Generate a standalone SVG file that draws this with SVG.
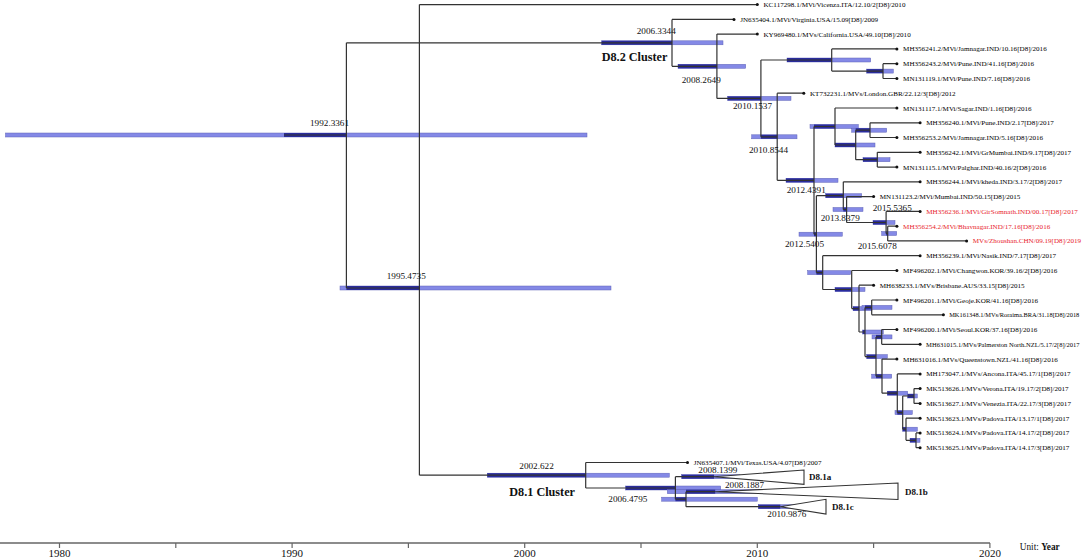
<svg xmlns="http://www.w3.org/2000/svg" width="1084" height="559" viewBox="0 0 1084 559">
<style>
.bg{fill:#fff}
.br{stroke:#333;stroke-width:1.2;fill:none}
.tri{stroke:#333;stroke-width:1.1;fill:#fff}
.bar{fill:#8489e6;stroke:#5f63b8;stroke-width:0.5}
.bd{fill:#2a2c9c}
.dot{fill:#111}
.tip{font-family:"Liberation Serif",serif;font-size:7.1px;fill:#000}
.tip.sm{font-size:6.4px}
.tip.sm2{font-size:6.55px}
.red{fill:#e8242c}
.nl{font-family:"Liberation Serif",serif;font-size:9.2px;fill:#111}
.cl{font-family:"Liberation Serif",serif;font-size:12.2px;font-weight:bold;fill:#111}
.sc{font-family:"Liberation Serif",serif;font-size:9px;font-weight:bold;fill:#111}
.ax{stroke:#666;stroke-width:1.5;fill:none}
.tk{stroke:#666;stroke-width:1.2}
.al{font-family:"Liberation Serif",serif;font-size:11px;fill:#111;text-anchor:middle}
</style>
<rect class="bg" width="1084" height="559"/>
<g id="bars">
<rect class="bar" x="5.5" y="133" width="581.5" height="4"/><rect class="bd" x="284" y="133" width="62.4" height="4"/>
<rect class="bar" x="340" y="286" width="271" height="4"/><rect class="bd" x="346.4" y="286" width="73" height="4"/>
<rect class="bar" x="601.7" y="40.8" width="121.3" height="4"/><rect class="bd" x="601.7" y="40.8" width="70.3" height="4"/>
<rect class="bar" x="678" y="64.3" width="67.7" height="4"/><rect class="bd" x="678" y="64.3" width="38.9" height="4"/>
<rect class="bar" x="727.7" y="96.4" width="63.3" height="4"/><rect class="bd" x="727.7" y="96.4" width="33.2" height="4"/>
<rect class="bar" x="787" y="58" width="83.7" height="4"/><rect class="bd" x="787" y="58" width="44.7" height="4"/>
<rect class="bar" x="866.7" y="69.1" width="26.6" height="4"/><rect class="bd" x="866.7" y="69.1" width="16.3" height="4"/>
<rect class="bar" x="751.7" y="134.8" width="45.3" height="4"/><rect class="bd" x="760.9" y="134.8" width="16.3" height="4"/>
<rect class="bar" x="786" y="178.3" width="52" height="4"/><rect class="bd" x="786" y="178.3" width="28" height="4"/>
<rect class="bar" x="810" y="124.5" width="48.3" height="4"/><rect class="bd" x="814" y="124.5" width="21" height="4"/>
<rect class="bar" x="835" y="143" width="40" height="4"/><rect class="bd" x="835" y="143" width="20.7" height="4"/>
<rect class="bar" x="851.7" y="128.2" width="35" height="4"/><rect class="bd" x="855.7" y="128.2" width="14.3" height="4"/>
<rect class="bar" x="863" y="157.7" width="27" height="4"/><rect class="bd" x="863" y="157.7" width="14.3" height="4"/>
<rect class="bar" x="825.7" y="193.7" width="36" height="4"/><rect class="bd" x="825.7" y="193.7" width="17.6" height="4"/>
<rect class="bar" x="833" y="207.5" width="30" height="4"/><rect class="bd" x="843.3" y="207.5" width="3.3" height="4"/>
<rect class="bar" x="873" y="220.5" width="22" height="4"/><rect class="bd" x="873" y="220.5" width="13.1" height="4"/>
<rect class="bar" x="881.7" y="231.5" width="15" height="4"/><rect class="bd" x="886.1" y="231.5" width="1.6" height="4"/>
<rect class="bar" x="799" y="232.2" width="43.3" height="4"/><rect class="bd" x="814" y="232.2" width="2.4" height="4"/>
<rect class="bar" x="807.7" y="270.6" width="43" height="4"/><rect class="bd" x="816.4" y="270.6" width="6.3" height="4"/>
<rect class="bar" x="835" y="287.5" width="30" height="4"/><rect class="bd" x="835" y="287.5" width="16.7" height="4"/>
<rect class="bar" x="853" y="306.6" width="19" height="4"/><rect class="bd" x="853" y="306.6" width="6" height="4"/>
<rect class="bar" x="862" y="305.4" width="30" height="4"/><rect class="bd" x="865" y="305.4" width="6.7" height="4"/>
<rect class="bar" x="862.7" y="330" width="20.6" height="4"/><rect class="bd" x="862.7" y="330" width="2.3" height="4"/>
<rect class="bar" x="866.7" y="354.6" width="20.6" height="4"/><rect class="bd" x="866.7" y="354.6" width="9.3" height="4"/>
<rect class="bar" x="872" y="334.9" width="20" height="4"/><rect class="bd" x="876" y="334.9" width="5.7" height="4"/>
<rect class="bar" x="871.7" y="374.2" width="20" height="4"/><rect class="bd" x="876" y="374.2" width="6" height="4"/>
<rect class="bar" x="887.3" y="391.2" width="20.4" height="4"/><rect class="bd" x="887.3" y="391.2" width="10" height="4"/>
<rect class="bar" x="895" y="410.6" width="17.3" height="4"/><rect class="bd" x="897.3" y="410.6" width="5.4" height="4"/>
<rect class="bar" x="907.7" y="394" width="9.6" height="4"/><rect class="bd" x="907.7" y="394" width="6.3" height="4"/>
<rect class="bar" x="902.7" y="427.2" width="14.6" height="4"/><rect class="bd" x="902.7" y="427.2" width="3.3" height="4"/>
<rect class="bar" x="910" y="438.3" width="10" height="4"/><rect class="bd" x="910" y="438.3" width="6" height="4"/>
<rect class="bar" x="487.3" y="473.2" width="182" height="4"/><rect class="bd" x="487.3" y="473.2" width="98.4" height="4"/>
<rect class="bar" x="625.7" y="486" width="95" height="4"/><rect class="bd" x="625.7" y="486" width="49.7" height="4"/>
<rect class="bar" x="681.7" y="474.7" width="58.3" height="4"/><rect class="bd" x="681.7" y="474.7" width="32.3" height="4"/>
<rect class="bar" x="661.7" y="497.2" width="95.6" height="4"/><rect class="bd" x="675.4" y="497.2" width="10.6" height="4"/>
<rect class="bar" x="667.3" y="489.7" width="99.4" height="4"/><rect class="bd" x="686" y="489.7" width="29.2" height="4"/>
<rect class="bar" x="758.3" y="504.7" width="38.4" height="4"/><rect class="bd" x="758.3" y="504.7" width="22" height="4"/>
</g>
<g id="connectors">
<path class="br" d="M284,135H346.4 M346.4,42.8V288 M346.4,42.8H672 M346.4,288H419.4
M419.4,4.6V475.2 M419.4,4.6H757.3 M419.4,475.2H585.7
M672,19.4V66.3 M672,19.4H734 M672,66.3H716.9
M716.9,34.1V98.4 M716.9,34.1H757.3 M716.9,98.4H760.9
M760.9,60V136.8 M760.9,60H831.7 M760.9,136.8H777.2
M831.7,48.9V71.1 M831.7,48.9H896.9 M831.7,71.1H883
M883,63.7V78.5 M883,63.7H896.9 M883,78.5H896.9
M777.2,93.2V180.3 M777.2,93.2H803.8 M777.2,180.3H814
M814,126.5V234.2 M814,126.5H835 M814,234.2H816.4
M835,108V145 M835,108H896.9 M835,145H855.7
M855.7,130.2V159.7 M855.7,130.2H870 M855.7,159.7H877.3
M870,122.8V137.5 M870,122.8H920.1 M870,137.5H896.9
M877.3,152.3V167.1 M877.3,152.3H920.1 M877.3,167.1H896.9
M816.4,195.7V272.6 M816.4,195.7H843.3 M816.4,272.6H822.7
M843.3,181.8V209.5 M843.3,181.8H920.1 M843.3,209.5H846.6
M846.6,196.6V222.5 M846.6,196.6H873.6 M846.6,222.5H886.1
M886.1,211.4V233.5 M886.1,211.4H920.1 M886.1,233.5H887.7
M887.7,226.2V240.9 M887.7,226.2H896.9 M887.7,240.9H966.6
M822.7,255.7V289.5 M822.7,255.7H920.1 M822.7,289.5H851.7
M851.7,270.5V308.6 M851.7,270.5H896.9 M851.7,308.6H859
M859,285.2V332 M859,285.2H873.6 M859,332H865
M865,307.4V356.6 M865,307.4H871.7 M865,356.6H876
M871.7,300V314.8 M871.7,300H896.9 M871.7,314.8H943.4
M876,336.9V376.2 M876,336.9H881.7 M876,376.2H882
M881.7,329.5V344.3 M881.7,329.5H896.9 M881.7,344.3H920.1
M882,359.1V393.2 M882,359.1H896.9 M882,393.2H897.3
M897.3,373.9V412.6 M897.3,373.9H920.1 M897.3,412.6H902.7
M902.7,396V429.2 M902.7,396H914 M902.7,429.2H906
M914,388.6V403.4 M914,388.6H920.1 M914,403.4H920.1
M906,418.2V440.3 M906,418.2H920.1 M906,440.3H916
M916,432.9V447.7 M916,432.9H920.1 M916,447.7H920.1
M585.7,462.5V488 M585.7,462.5H687.5 M585.7,488H675.4
M675.4,476.7V499.2 M675.4,476.7H714 M675.4,499.2H686
M686,491.7V506.7 M686,491.7H715.2 M686,506.7H780.3"/>
</g>
<g id="clade-D8.1a"><path class="tri" d="M714,476.7L804,470L804,484.3Z"/><text class="sc" x="809" y="480">D8.1a</text></g>
<g id="clade-D8.1b"><path class="tri" d="M715.2,491.7L898,483L898,499.5Z"/><text class="sc" x="905" y="495">D8.1b</text></g>
<g id="clade-D8.1c"><path class="tri" d="M780.3,506.7L826,499.3L826,514Z"/><text class="sc" x="832" y="510">D8.1c</text></g>
<g id="node-labels">
<text class="nl" x="310" y="126">1992.3361</text>
<text class="nl" x="386.7" y="279">1995.4735</text>
<text class="nl" x="636.7" y="34">2006.3344</text>
<text class="cl" x="601.7" y="61">D8.2 Cluster</text>
<text class="nl" x="681.7" y="83.3">2008.2649</text>
<text class="nl" x="733" y="109">2010.1537</text>
<text class="nl" x="749" y="153.3">2010.8544</text>
<text class="nl" x="786.7" y="192.5">2012.4391</text>
<text class="nl" x="820.7" y="220.5">2013.8379</text>
<text class="nl" x="872.7" y="210.5">2015.5365</text>
<text class="nl" x="785" y="246.5">2012.5405</text>
<text class="nl" x="857.7" y="249.3">2015.6078</text>
<text class="nl" x="519.3" y="469">2002.622</text>
<text class="cl" x="509.3" y="496">D8.1 Cluster</text>
<text class="nl" x="608.3" y="501.5">2006.4795</text>
<text class="nl" x="698.3" y="473">2008.1399</text>
<text class="nl" x="725" y="487.5">2008.1887</text>
<text class="nl" x="767.3" y="517">2010.9876</text>
</g>
<g id="tips">
<g id="t1"><circle class="dot" cx="757.3" cy="4.6" r="1.5"/><text class="tip" x="763.5" y="7.1">KC117298.1/MVi/Vicenza.ITA/12.10/2[D8]/2010</text></g>
<g id="t2"><circle class="dot" cx="734" cy="19.4" r="1.5"/><text class="tip" x="740.2" y="21.9">JN635404.1/MVi/Virginia.USA/15.09[D8]/2009</text></g>
<g id="t3"><circle class="dot" cx="757.3" cy="34.1" r="1.5"/><text class="tip" x="763.5" y="36.6">KY969480.1/MVs/California.USA/49.10[D8]/2010</text></g>
<g id="t4"><circle class="dot" cx="896.9" cy="48.9" r="1.5"/><text class="tip" x="903.1" y="51.4">MH356241.2/MVi/Jamnagar.IND/10.16[D8]/2016</text></g>
<g id="t5"><circle class="dot" cx="896.9" cy="63.7" r="1.5"/><text class="tip" x="903.1" y="66.2">MH356243.2/MVi/Pune.IND/41.16[D8]/2016</text></g>
<g id="t6"><circle class="dot" cx="896.9" cy="78.5" r="1.5"/><text class="tip" x="903.1" y="81">MN131119.1/MVi/Pune.IND/7.16[D8]/2016</text></g>
<g id="t7"><circle class="dot" cx="803.8" cy="93.2" r="1.5"/><text class="tip" x="810" y="95.7">KT732231.1/MVs/London.GBR/22.12/3[D8]/2012</text></g>
<g id="t8"><circle class="dot" cx="896.9" cy="108" r="1.5"/><text class="tip" x="903.1" y="110.5">MN131117.1/MVi/Sagar.IND/1.16[D8]/2016</text></g>
<g id="t9"><circle class="dot" cx="920.1" cy="122.8" r="1.5"/><text class="tip" x="926.3" y="125.3">MH356240.1/MVi/Pune.IND/2.17[D8]/2017</text></g>
<g id="t10"><circle class="dot" cx="896.9" cy="137.5" r="1.5"/><text class="tip" x="903.1" y="140">MH356253.2/MVi/Jamnagar.IND/5.16[D8]/2016</text></g>
<g id="t11"><circle class="dot" cx="920.1" cy="152.3" r="1.5"/><text class="tip" x="926.3" y="154.8">MH356242.1/MVi/GrMumbai.IND/9.17[D8]/2017</text></g>
<g id="t12"><circle class="dot" cx="896.9" cy="167.1" r="1.5"/><text class="tip" x="903.1" y="169.6">MN131115.1/MVi/Palghar.IND/40.16/2[D8]/2016</text></g>
<g id="t13"><circle class="dot" cx="920.1" cy="181.8" r="1.5"/><text class="tip" x="926.3" y="184.3">MH356244.1/MVi/kheda.IND/3.17/2[D8]/2017</text></g>
<g id="t14"><circle class="dot" cx="873.6" cy="196.6" r="1.5"/><text class="tip" x="879.8" y="199.1">MN131123.2/MVi/Mumbai.IND/50.15[D8]/2015</text></g>
<g id="t15"><circle class="dot" cx="920.1" cy="211.4" r="1.5"/><text class="tip red" x="926.3" y="213.9">MH356236.1/MVi/GirSomnath.IND/00.17[D8]/2017</text></g>
<g id="t16"><circle class="dot" cx="896.9" cy="226.2" r="1.5"/><text class="tip red" x="903.1" y="228.7">MH356254.2/MVi/Bhavnagar.IND/17.16[D8]/2016</text></g>
<g id="t17"><circle class="dot" cx="966.6" cy="240.9" r="1.5"/><text class="tip red" x="972.8" y="243.4">MVs/Zhoushan.CHN/09.19[D8]/2019</text></g>
<g id="t18"><circle class="dot" cx="920.1" cy="255.7" r="1.5"/><text class="tip" x="926.3" y="258.2">MH356239.1/MVi/Nasik.IND/7.17[D8]/2017</text></g>
<g id="t19"><circle class="dot" cx="896.9" cy="270.5" r="1.5"/><text class="tip" x="903.1" y="273">MF496202.1/MVi/Changwon.KOR/39.16/2[D8]/2016</text></g>
<g id="t20"><circle class="dot" cx="873.6" cy="285.2" r="1.5"/><text class="tip" x="879.8" y="287.7">MH638233.1/MVs/Brisbane.AUS/33.15[D8]/2015</text></g>
<g id="t21"><circle class="dot" cx="896.9" cy="300" r="1.5"/><text class="tip" x="903.1" y="302.5">MF496201.1/MVi/Geoje.KOR/41.16[D8]/2016</text></g>
<g id="t22"><circle class="dot" cx="943.4" cy="314.8" r="1.5"/><text class="tip sm" x="949.2" y="317.2">MK161348.1/MVs/Roraima.BRA/31.18[D8]/2018</text></g>
<g id="t23"><circle class="dot" cx="896.9" cy="329.5" r="1.5"/><text class="tip" x="903.1" y="332">MF496200.1/MVi/Seoul.KOR/37.16[D8]/2016</text></g>
<g id="t24"><circle class="dot" cx="920.1" cy="344.3" r="1.5"/><text class="tip sm2" x="926.1" y="346.7">MH631015.1/MVs/Palmerston North.NZL/5.17/2[8]/2017</text></g>
<g id="t25"><circle class="dot" cx="896.9" cy="359.1" r="1.5"/><text class="tip" x="903.1" y="361.6">MH631016.1/MVs/Queenstown.NZL/41.16[D8]/2016</text></g>
<g id="t26"><circle class="dot" cx="920.1" cy="373.9" r="1.5"/><text class="tip" x="926.3" y="376.4">MH173047.1/MVs/Ancona.ITA/45.17/1[D8]/2017</text></g>
<g id="t27"><circle class="dot" cx="920.1" cy="388.6" r="1.5"/><text class="tip" x="926.3" y="391.1">MK513626.1/MVs/Verona.ITA/19.17/2[D8]/2017</text></g>
<g id="t28"><circle class="dot" cx="920.1" cy="403.4" r="1.5"/><text class="tip" x="926.3" y="405.9">MK513627.1/MVs/Venezia.ITA/22.17/3[D8]/2017</text></g>
<g id="t29"><circle class="dot" cx="920.1" cy="418.2" r="1.5"/><text class="tip" x="926.3" y="420.7">MK513623.1/MVs/Padova.ITA/13.17/1[D8]/2017</text></g>
<g id="t30"><circle class="dot" cx="920.1" cy="432.9" r="1.5"/><text class="tip" x="926.3" y="435.4">MK513624.1/MVs/Padova.ITA/14.17/2[D8]/2017</text></g>
<g id="t31"><circle class="dot" cx="920.1" cy="447.7" r="1.5"/><text class="tip" x="926.3" y="450.2">MK513625.1/MVs/Padova.ITA/14.17/3[D8]/2017</text></g>
<g id="t32"><circle class="dot" cx="687.5" cy="462.5" r="1.5"/><text class="tip" x="693.7" y="465">JN635407.1/MVi/Texas.USA/4.07[D8]/2007</text></g>
</g>
<g id="axis">
<path class="ax" d="M0,543H990"/>
<path class="tk" d="M59.5,543V548 M175.8,543V548 M292.1,543V548 M408.4,543V548 M524.7,543V548 M641,543V548 M757.3,543V548 M873.6,543V548 M989.9,543V548"/>
<text class="al" x="59.5" y="557">1980</text>
<text class="al" x="292.1" y="557">1990</text>
<text class="al" x="524.7" y="557">2000</text>
<text class="al" x="757.3" y="557">2010</text>
<text class="al" x="989.9" y="557">2020</text>
<text x="1019.7" y="550" style="font-family:'Liberation Serif',serif;font-size:9.3px;fill:#111">Unit: <tspan font-weight="bold">Year</tspan></text>
</g>
</svg>
